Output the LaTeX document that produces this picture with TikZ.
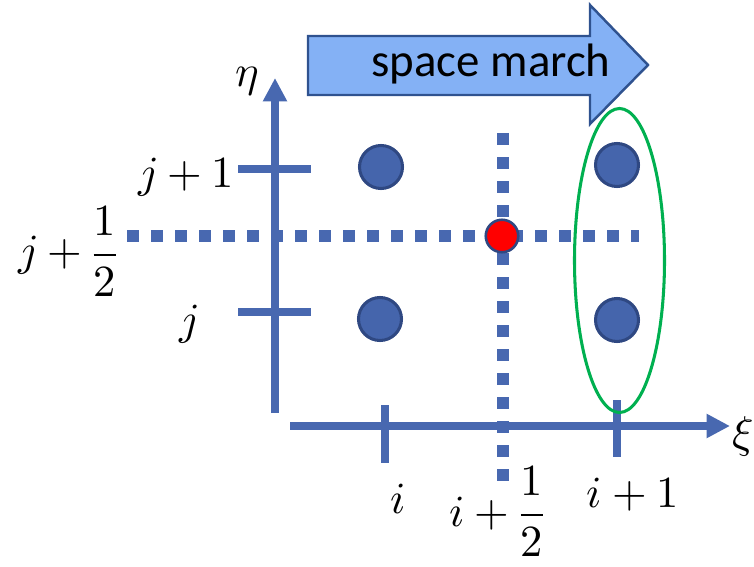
\documentclass[tikz,border=0pt]{standalone}
\usepackage{amsmath}
\usepackage{fontspec}
\usepackage{unicode-math}
\setmathfont{Latin Modern Math}
\newfontfamily\marchfont{Carlito}
\usetikzlibrary{shapes.geometric, arrows.meta, positioning}
\definecolor{axisblue}{RGB}{72,104,176}
\definecolor{dotblue}{RGB}{69,101,172}
\definecolor{rimblue}{RGB}{47,72,130}
\definecolor{marchfill}{RGB}{132,177,245}
\definecolor{marchline}{RGB}{47,82,143}
\definecolor{colgreen}{RGB}{0,176,80}
\tikzstyle{axis}     = [line width=6.4pt, draw=axisblue, -{Triangle[length=20pt, width=19.5pt]}]
\tikzstyle{tick}     = [line width=6.4pt, draw=axisblue]
\tikzstyle{halfline} = [line width=10.2pt, draw=axisblue, dash pattern=on 10.2pt off 10.3pt]
\tikzstyle{gridpt}   = [circle, fill=dotblue, draw=rimblue, line width=2.6pt,
                        minimum size=1.29cm, inner sep=0pt]
\tikzstyle{midpt}    = [circle, fill=red, draw=rimblue, line width=2.2pt,
                        minimum size=0.975cm, inner sep=0pt]
\tikzstyle{idx}      = [font=\fontsize{38}{46}\selectfont, inner sep=0pt]
\tikzstyle{march}    = [fill=marchfill, draw=marchline, line width=2.1pt, line join=miter]
\tikzstyle{column}   = [ellipse, draw=colgreen, line width=2.6pt, minimum width=2.7cm,
                        minimum height=9.12cm, inner sep=0pt]

\begin{document}
\begin{tikzpicture}[x=0.03cm, y=-0.03cm]
    \useasboundingbox (0,0) rectangle (754,567);

    % Space march arrow
    \draw[march] (308,36) -- (590,36) -- (590,5) -- (648,65) -- (590,124)
                 -- (590,95) -- (308,95) -- cycle;
    \node (spm) [anchor=base, inner sep=0pt, font=\marchfont\fontsize{40}{48}\selectfont]
          at (491,77) {space march};

    % Half-index lines
    \draw[halfline] (127,236) -- (639,236);
    \draw[halfline] (503,133) -- (503,487);

    % Axes
    \coordinate (etafoot) at (275,413);
    \coordinate (etatip) at (275,78);
    \coordinate (xifoot) at (290,426);
    \coordinate (xitip) at (730,426);
    \draw[axis] (etafoot) -- (etatip);
    \draw[axis] (xifoot) -- (xitip);

    % Ticks
    \draw[tick] (238,169) -- (311,169);
    \draw[tick] (238,312) -- (311,312);
    \draw[tick] (385,405) -- (385,463);
    \draw[tick] (617,400) -- (617,457);

    % Grid points
    \node (ij1)  [gridpt] at (381,167) {};
    \node (i1j1) [gridpt] at (617,165) {};
    \node (ij)   [gridpt] at (380,319) {};
    \node (i1j)  [gridpt] at (617,320) {};
    \node (mid)  [midpt]  at (502,236) {};

    % Next column
    \node (nextcol) [column] at (619.5,260.5) {};

    % Labels
    \node (eta)   [idx] at (247,81) {$\eta$};
    \node (xi)    [idx] at (743,437) {$\xi$};
    \node (jone)  [idx, anchor=base] at (186,188) {$j+1$};
    \node (jhalf) [idx, anchor=base] at (68,266) {$j+\dfrac{1}{2}$};
    \node (jlab)  [idx, anchor=base] at (189,334) {$j$};
    \node (ilab)  [idx, anchor=base] at (398,513) {$i$};
    \node (ihalf) [idx, anchor=base] at (497,526) {$i+\dfrac{1}{2}$};
    \node (ione)  [idx, anchor=base] at (633,507) {$i+1$};
\end{tikzpicture}
\end{document}
